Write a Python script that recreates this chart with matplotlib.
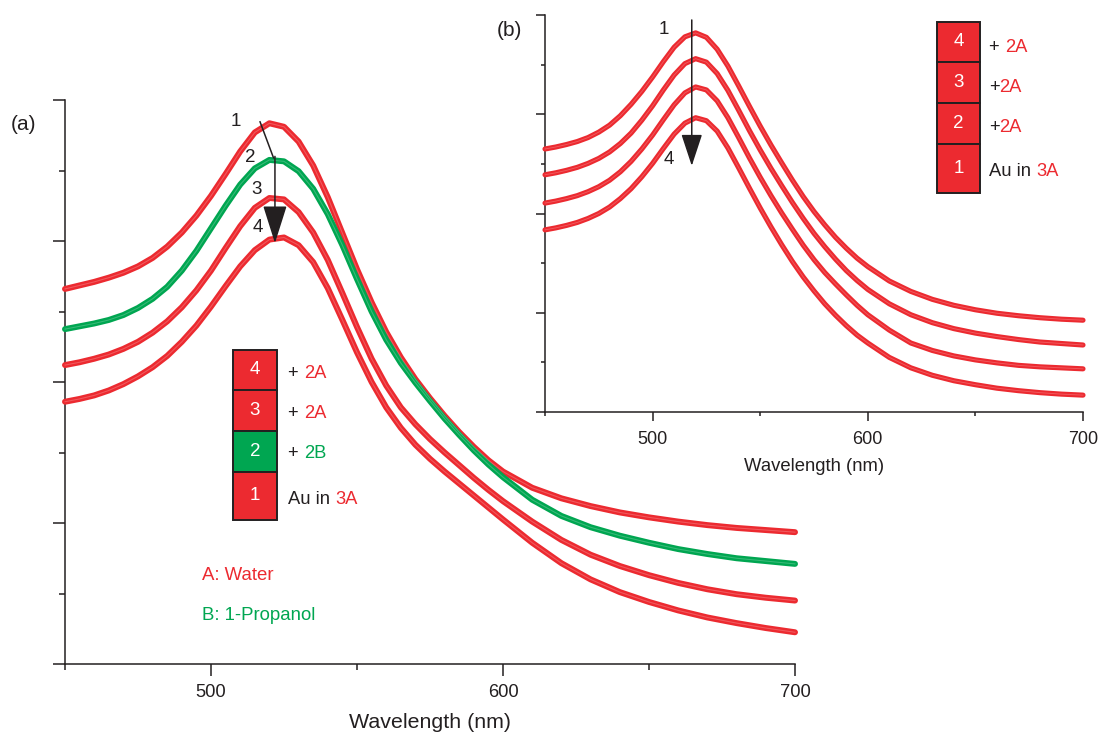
import matplotlib
matplotlib.use("Agg")
import matplotlib.pyplot as plt
from matplotlib.patches import Rectangle

plt.rcParams['font.family'] = ['Liberation Sans', 'DejaVu Sans']

RED = '#EC2A30'
GREEN = '#00A651'
INK = '#231F20'

# ---------------- data ----------------
wavelength = [450, 455, 460, 465, 470, 475, 480, 485, 490, 495,
              500, 505, 510, 515, 520, 525, 530, 535, 540, 545,
              550, 555, 560, 565, 570, 575, 580, 585, 590, 595,
              600, 610, 620, 630, 640, 650, 660, 670, 680, 690, 700]

# panel (a)
a_curve1 = [0.532, 0.537, 0.542, 0.548, 0.555, 0.564, 0.576, 0.592, 0.612, 0.636,
            0.664, 0.695, 0.727, 0.754, 0.767, 0.762, 0.741, 0.707, 0.662, 0.611,
            0.560, 0.513, 0.471, 0.435, 0.404, 0.377, 0.352, 0.329, 0.308, 0.289,
            0.273, 0.250, 0.235, 0.224, 0.215, 0.208, 0.202, 0.197, 0.193, 0.190, 0.187]
a_curve2 = [0.475, 0.479, 0.483, 0.488, 0.495, 0.505, 0.518, 0.535, 0.558, 0.586,
            0.618, 0.650, 0.680, 0.703, 0.715, 0.713, 0.699, 0.674, 0.638, 0.594,
            0.546, 0.500, 0.460, 0.427, 0.399, 0.373, 0.348, 0.325, 0.303, 0.283,
            0.265, 0.233, 0.210, 0.194, 0.182, 0.172, 0.163, 0.156, 0.150, 0.146, 0.142]
a_curve3 = [0.424, 0.428, 0.433, 0.439, 0.447, 0.457, 0.470, 0.486, 0.506, 0.530,
            0.558, 0.590, 0.621, 0.647, 0.661, 0.659, 0.641, 0.612, 0.573, 0.526,
            0.478, 0.433, 0.395, 0.364, 0.340, 0.319, 0.300, 0.282, 0.264, 0.247,
            0.231, 0.202, 0.176, 0.155, 0.139, 0.126, 0.115, 0.106, 0.099, 0.094, 0.090]
a_curve4 = [0.372, 0.376, 0.381, 0.388, 0.397, 0.408, 0.421, 0.437, 0.457, 0.480,
            0.507, 0.536, 0.564, 0.587, 0.602, 0.605, 0.594, 0.570, 0.533, 0.488,
            0.442, 0.400, 0.364, 0.335, 0.311, 0.291, 0.273, 0.256, 0.239, 0.222,
            0.205, 0.172, 0.143, 0.120, 0.102, 0.088, 0.076, 0.066, 0.058, 0.051, 0.045]

# panel (b)
b_curve1 = [0.530, 0.534, 0.539, 0.545, 0.553, 0.564, 0.578, 0.597, 0.620, 0.646,
            0.675, 0.706, 0.735, 0.756, 0.764, 0.755, 0.731, 0.697, 0.657, 0.616,
            0.576, 0.538, 0.502, 0.467, 0.434, 0.404, 0.377, 0.352, 0.330, 0.310,
            0.293, 0.264, 0.243, 0.227, 0.215, 0.206, 0.199, 0.194, 0.190, 0.187, 0.185]
b_curve2 = [0.478, 0.482, 0.487, 0.493, 0.501, 0.511, 0.524, 0.541, 0.562, 0.588,
            0.617, 0.649, 0.679, 0.702, 0.712, 0.705, 0.682, 0.648, 0.608, 0.567,
            0.528, 0.491, 0.456, 0.422, 0.390, 0.360, 0.333, 0.308, 0.285, 0.265,
            0.247, 0.218, 0.196, 0.180, 0.168, 0.159, 0.152, 0.146, 0.141, 0.138, 0.135]
b_curve3 = [0.421, 0.425, 0.430, 0.436, 0.444, 0.454, 0.467, 0.484, 0.505, 0.530,
            0.558, 0.589, 0.619, 0.643, 0.655, 0.649, 0.627, 0.593, 0.553, 0.512,
            0.473, 0.436, 0.401, 0.368, 0.336, 0.307, 0.281, 0.258, 0.236, 0.215,
            0.196, 0.165, 0.139, 0.124, 0.113, 0.105, 0.099, 0.094, 0.091, 0.089, 0.087]
b_curve4 = [0.367, 0.371, 0.376, 0.382, 0.390, 0.400, 0.413, 0.430, 0.450, 0.474,
            0.501, 0.531, 0.560, 0.582, 0.593, 0.587, 0.566, 0.532, 0.492, 0.451,
            0.411, 0.373, 0.337, 0.303, 0.272, 0.244, 0.218, 0.195, 0.174, 0.155,
            0.139, 0.110, 0.089, 0.074, 0.063, 0.055, 0.048, 0.043, 0.039, 0.036, 0.034]

a_series = [(a_curve1, RED), (a_curve2, GREEN), (a_curve3, RED), (a_curve4, RED)]
b_series = [(b_curve1, RED), (b_curve2, RED), (b_curve3, RED), (b_curve4, RED)]

x_major = [500, 600, 700]
x_minor = [450, 550, 650]
y_major = [0, 0.2, 0.4, 0.6, 0.8]
y_minor = [0.1, 0.3, 0.5, 0.7]

a_legend_numbers = ['4', '3', '2', '1']
a_legend_colors = [RED, RED, GREEN, RED]
a_legend_text = [[('+ ', INK), ('2A', RED)],
                 [('+ ', INK), ('2A', RED)],
                 [('+ ', INK), ('2B', GREEN)],
                 [('Au in ', INK), ('3A', RED)]]
b_legend_numbers = ['4', '3', '2', '1']
b_legend_colors = [RED, RED, RED, RED]
b_legend_text = [[('+ ', INK), ('2A', RED)],
                 [('+', INK), ('2A', RED)],
                 [('+', INK), ('2A', RED)],
                 [('Au in ', INK), ('3A', RED)]]

# ---------------- figure ----------------
W, H = 1102, 738
fig = plt.figure(figsize=(W / 100, H / 100), dpi=100)


def fx(x):
    return x / W


def fy(y):
    return 1 - y / H


ax = fig.add_axes([fx(65), fy(664), 730 / W, 564 / H])
axb = fig.add_axes([fx(545), fy(412), 538 / W, 397 / H])
axb.set_facecolor('none')


def style(a, major_len, minor_len, pad, fs):
    for s in ('top', 'right'):
        a.spines[s].set_visible(False)
    for s in ('left', 'bottom'):
        a.spines[s].set_linewidth(1.1)
        a.spines[s].set_color(INK)
    a.set_xlim(450, 700)
    a.set_ylim(0, 0.8)
    a.set_xticks(x_major)
    a.set_xticks(x_minor, minor=True)
    a.set_yticks(y_major)
    a.set_yticks(y_minor, minor=True)
    a.set_yticklabels([])
    a.tick_params(which='major', direction='out', length=major_len, width=1.1,
                  color=INK, labelsize=fs, labelcolor=INK, pad=pad)
    a.tick_params(which='minor', direction='out', length=minor_len, width=1.1, color=INK)


style(ax, 8.5, 4.3, 6, 13.2)
style(axb, 6.5, 3.0, 7, 13)


def draw_band(a, y, color, lw):
    a.plot(wavelength, y, color=color, lw=lw, solid_capstyle='round',
           solid_joinstyle='round', clip_on=False, zorder=3)
    a.plot(wavelength, y, color='white', lw=lw * 0.18, alpha=0.22,
           clip_on=False, zorder=3.1)


for y, c in a_series:
    draw_band(ax, y, c, 4.3)
for y, c in b_series:
    draw_band(axb, y, c, 3.7)

# arrows panel (a)
ax.plot([516.8, 521.4], [0.769, 0.718], color=INK, lw=1.1, zorder=5)
ax.annotate('', xy=(521.9, 0.597), xytext=(521.9, 0.720),
            arrowprops=dict(arrowstyle='-|>,head_length=1.2,head_width=0.38',
                            mutation_scale=20, color=INK, lw=1.1,
                            shrinkA=0, shrinkB=0), zorder=6)
# arrow panel (b)
axb.annotate('', xy=(518.2, 0.496), xytext=(518.2, 0.790),
             arrowprops=dict(arrowstyle='-|>,head_length=1.0,head_width=0.33',
                             mutation_scale=20, color=INK, lw=1.1,
                             shrinkA=0, shrinkB=0), zorder=6)

# curve labels
for txt, (x, y) in zip(['1', '2', '3', '4'], [(236, 122), (250, 158), (257, 190), (258, 228)]):
    fig.text(fx(x), fy(y), txt, fontsize=13.5, color=INK, ha='center', va='center')
fig.text(fx(664), fy(29), '1', fontsize=13.5, color=INK, ha='center', va='center')
fig.text(fx(669), fy(160), '4', fontsize=13.5, color=INK, ha='center', va='center')

fig.text(fx(23), fy(124), '(a)', fontsize=15, color=INK, ha='center', va='center')
fig.text(fx(509), fy(30), '(b)', fontsize=15, color=INK, ha='center', va='center')

# axis labels
fig.text(fx(430), fy(722), 'Wavelength (nm)', fontsize=15.4, color=INK, ha='center', va='center')
fig.text(fx(814), fy(467), 'Wavelength (nm)', fontsize=13.3, color=INK, ha='center', va='center')

# solvent key
fig.text(fx(202), fy(576), 'A: Water', fontsize=13.4, color=RED, ha='left', va='center')
fig.text(fx(202), fy(615), 'B: 1-Propanol', fontsize=13.4, color=GREEN, ha='left', va='center')


def draw_key(x0, x1, rows, numbers, colors, texts, text_x, text_y):
    for (t, b), num, col, parts, ty in zip(rows, numbers, colors, texts, text_y):
        fig.add_artist(Rectangle((fx(x0), fy(b)), (x1 - x0) / W, (b - t) / H,
                                 transform=fig.transFigure, facecolor=col,
                                 edgecolor=INK, lw=1.4, zorder=4))
        fig.text(fx((x0 + x1) / 2), fy((t + b) / 2), num, fontsize=13.5, color='white',
                 ha='center', va='center', zorder=5)
        first = fig.text(fx(text_x), fy(ty), parts[0][0], fontsize=13.2,
                         color=parts[0][1], ha='left', va='center')
        ax.annotate(parts[1][0], xy=(1, 0), xycoords=first, ha='left', va='bottom',
                    fontsize=13.2, color=parts[1][1], annotation_clip=False)


draw_key(233, 277, [(350, 390), (390, 431), (431, 472), (472, 520)],
         a_legend_numbers, a_legend_colors, a_legend_text, 288, [373, 413, 454, 500])
draw_key(937, 980, [(22, 62), (62, 103), (103, 144), (144, 193)],
         b_legend_numbers, b_legend_colors, b_legend_text, 989, [47, 87, 128, 172])

fig.savefig('out.png', dpi=100, facecolor='white')
